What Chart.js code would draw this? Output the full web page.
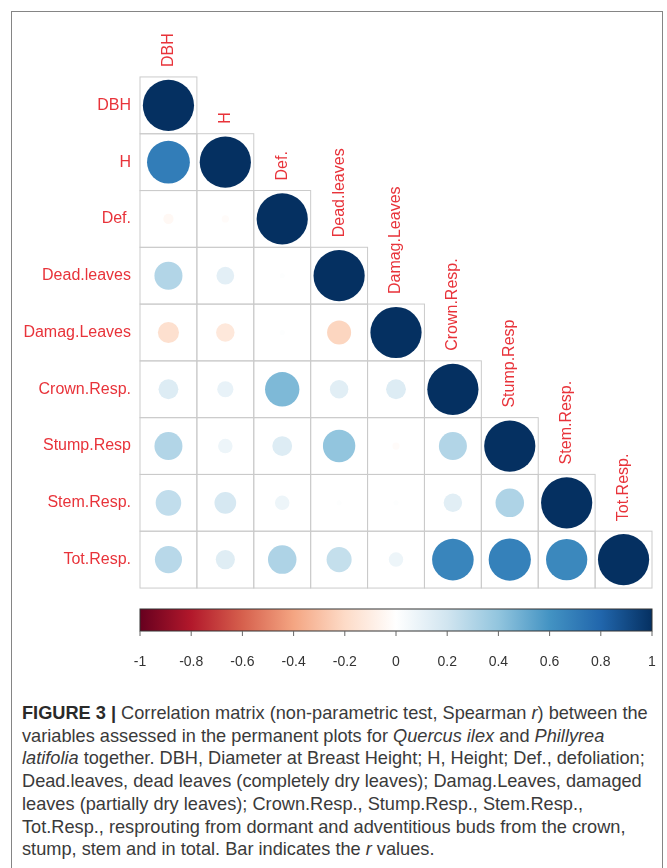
<!DOCTYPE html>
<html>
<head>
<meta charset="utf-8">
<script src="https://cdn.jsdelivr.net/npm/chart.js@4.4.1/dist/chart.umd.min.js"></script>
<style>
  html, body { margin: 0; padding: 0; background: #fff; }
  body { width: 667px; height: 868px; overflow: hidden; position: relative; }
  #frame { position: absolute; left: 11px; top: 11px; width: 650px; height: 880px; border: 1.5px solid #858585; }
  #corr { position: absolute; left: 0; top: 0; }
  #caption {
    position: absolute; left: 22px; top: 702px; width: 640px;
    font-family: 'Liberation Sans', Arial, sans-serif;
    font-size: 18.2px; line-height: 22.7px; color: #3a3a3a; white-space: nowrap;
  }
  #caption b { color: #2a2a2a; }
</style>
</head>
<body>
<div id="frame"></div>
<canvas id="corr" width="667" height="690"></canvas>
<div id="caption"><b>FIGURE 3 |</b> Correlation matrix (non-parametric test, Spearman <i>r</i>) between the<br>variables assessed in the permanent plots for <i>Quercus ilex</i> and <i>Phillyrea</i><br><i>latifolia</i> together. DBH, Diameter at Breast Height; H, Height; Def., defoliation;<br>Dead.leaves, dead leaves (completely dry leaves); Damag.Leaves, damaged<br>leaves (partially dry leaves); Crown.Resp., Stump.Resp., Stem.Resp.,<br>Tot.Resp., resprouting from dormant and adventitious buds from the crown,<br>stump, stem and in total. Bar indicates the <i>r</i> values.</div>
<script>
// variable names (rows top to bottom, columns left to right)
var varLabels = ['DBH', 'H', 'Def.', 'Dead.leaves', 'Damag.Leaves', 'Crown.Resp.', 'Stump.Resp', 'Stem.Resp.', 'Tot.Resp.'];

// lower triangle of the Spearman r matrix, one array per row
var rDBH      = [1];
var rH        = [0.70, 1];
var rDef      = [-0.04, -0.02, 1];
var rDead     = [0.30, 0.12, 0.01, 1];
var rDamag    = [-0.17, -0.13, 0.01, -0.22, 1];
var rCrown    = [0.15, 0.10, 0.45, 0.13, 0.15, 1];
var rStump    = [0.30, 0.08, 0.15, 0.40, -0.02, 0.30, 1];
var rStem     = [0.25, 0.18, 0.08, 0.01, 0.01, 0.13, 0.31, 1];
var rTot      = [0.28, 0.14, 0.31, 0.24, 0.08, 0.66, 0.68, 0.65, 1];
var corrRows = [rDBH, rH, rDef, rDead, rDamag, rCrown, rStump, rStem, rTot];

// colour bar ticks
var barTicks = [-1, -0.8, -0.6, -0.4, -0.2, 0, 0.2, 0.4, 0.6, 0.8, 1];
var barTickLabels = ['-1', '-0.8', '-0.6', '-0.4', '-0.2', '0', '0.2', '0.4', '0.6', '0.8', '1'];

// RdBu palette, -1 .. 1
var palette = ['#67001F', '#B2182B', '#D6604D', '#F4A582', '#FDDBC7', '#FFFFFF',
               '#D1E5F0', '#92C5DE', '#4393C3', '#2166AC', '#053061'];
var labelRed = '#e8333a';
var labelFont = "16px 'Liberation Sans', Arial, sans-serif";

function hexRgb(h) {
  return [parseInt(h.substr(1, 2), 16), parseInt(h.substr(3, 2), 16), parseInt(h.substr(5, 2), 16)];
}
function corrColor(v) {
  var p = (v + 1) / 2 * (palette.length - 1);
  var i = Math.min(Math.floor(p), palette.length - 2);
  var f = p - i;
  var a = hexRgb(palette[i]), b = hexRgb(palette[i + 1]);
  var c = [0, 1, 2].map(function (k) { return Math.round(a[k] + (b[k] - a[k]) * f); });
  return 'rgb(' + c.join(',') + ')';
}

var points = [];
corrRows.forEach(function (row, i) {
  row.forEach(function (v, j) {
    points.push({ x: varLabels[j], y: varLabels[i], v: v });
  });
});

function cellSize(chart) {
  var xs = chart.scales.x;
  return Math.abs(xs.getPixelForValue(1) - xs.getPixelForValue(0));
}

// grid of the lower triangle + column names above the diagonal
var triangleGrid = {
  id: 'triangleGrid',
  beforeDatasetsDraw: function (chart) {
    var ctx = chart.ctx, xs = chart.scales.x, ys = chart.scales.y;
    var c = cellSize(chart), h = c / 2;
    ctx.save();
    ctx.strokeStyle = '#cbcbcb';
    ctx.lineWidth = 1;
    for (var i = 0; i < varLabels.length; i++) {
      for (var j = 0; j <= i; j++) {
        var cx = xs.getPixelForValue(j), cy = ys.getPixelForValue(i);
        ctx.strokeRect(cx - h, cy - h, c, c);
      }
    }
    ctx.fillStyle = labelRed;
    ctx.font = labelFont;
    ctx.textAlign = 'left';
    ctx.textBaseline = 'middle';
    for (var k = 0; k < varLabels.length; k++) {
      var x = xs.getPixelForValue(k), y = ys.getPixelForValue(k) - h - 10;
      ctx.save();
      ctx.translate(x, y);
      ctx.rotate(-Math.PI / 2);
      ctx.fillText(varLabels[k], 0, 0);
      ctx.restore();
    }
    ctx.restore();
  }
};

// colour legend bar under the matrix
var colorBar = {
  id: 'colorBar',
  afterDraw: function (chart) {
    var ctx = chart.ctx, cb = chart.scales.cb;
    var x0 = cb.getPixelForValue(-1), x1 = cb.getPixelForValue(1);
    var top = 609, bot = 631;
    ctx.save();
    var g = ctx.createLinearGradient(x0, 0, x1, 0);
    palette.forEach(function (col, i) { g.addColorStop(i / (palette.length - 1), col); });
    ctx.fillStyle = g;
    ctx.fillRect(x0, top, x1 - x0, bot - top);
    ctx.strokeStyle = '#333';
    ctx.lineWidth = 1;
    ctx.strokeRect(x0, top, x1 - x0, bot - top);
    ctx.strokeStyle = '#666';
    ctx.fillStyle = '#333';
    ctx.font = "14px 'Liberation Sans', Arial, sans-serif";
    ctx.textAlign = 'center';
    ctx.textBaseline = 'middle';
    barTicks.forEach(function (t, i) {
      var x = cb.getPixelForValue(t);
      ctx.beginPath();
      ctx.moveTo(x, bot);
      ctx.lineTo(x, bot + 5);
      ctx.stroke();
      ctx.fillText(barTickLabels[i], x, 662);
    });
    ctx.restore();
  }
};

var chart = new Chart(document.getElementById('corr').getContext('2d'), {
  type: 'scatter',
  data: {
    datasets: [{
      data: points,
      pointStyle: 'circle',
      borderWidth: 0,
      pointRadius: function (c) {
        if (!c.raw) return 0;
        return 0.45 * cellSize(c.chart) * Math.sqrt(Math.abs(c.raw.v));
      },
      pointHoverRadius: function (c) {
        if (!c.raw) return 0;
        return 0.45 * cellSize(c.chart) * Math.sqrt(Math.abs(c.raw.v));
      },
      backgroundColor: function (c) { return c.raw ? corrColor(c.raw.v) : '#fff'; }
    }]
  },
  options: {
    responsive: false,
    animation: false,
    layout: { padding: { left: 0, top: 77, right: 15, bottom: 102 } },
    plugins: { legend: { display: false }, tooltip: { enabled: false } },
    scales: {
      x: {
        type: 'category',
        labels: varLabels,
        offset: true,
        display: false
      },
      y: {
        type: 'category',
        labels: varLabels,
        offset: true,
        position: 'left',
        grid: { display: false, drawTicks: false },
        border: { display: false },
        ticks: {
          color: labelRed,
          padding: 9,
          font: { family: "'Liberation Sans', Arial, sans-serif", size: 16 }
        },
        afterFit: function (s) { s.width = 140; }
      },
      cb: {
        type: 'linear',
        axis: 'x',
        position: 'bottom',
        min: -1,
        max: 1,
        display: false
      }
    }
  },
  plugins: [triangleGrid, colorBar]
});
</script>
</body>
</html>
